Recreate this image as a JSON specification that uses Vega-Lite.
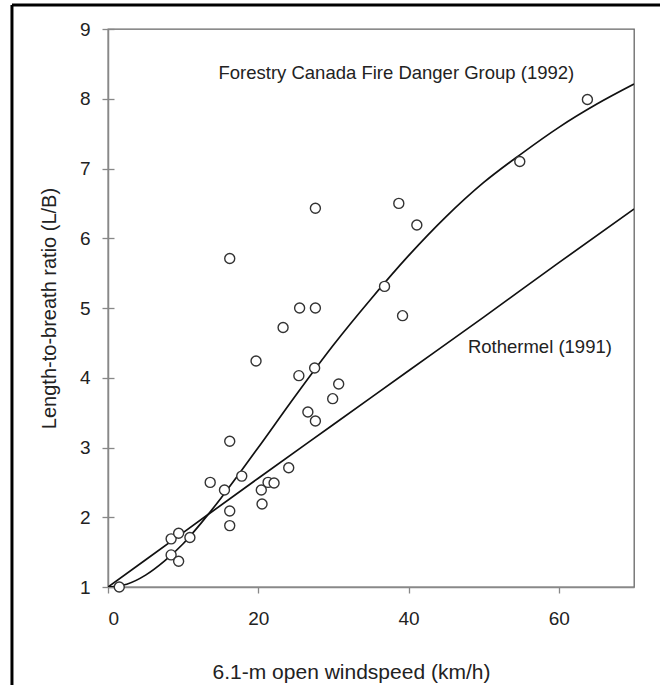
{
  "$schema": "https://vega.github.io/schema/vega-lite/v6.json",
  "width": 526,
  "height": 558,
  "autosize": "none",
  "padding": {"left": 108, "top": 29, "right": 26, "bottom": 98},
  "background": "white",
  "config": {
    "font": "Liberation Sans",
    "view": {"stroke": "#666", "strokeWidth": 1.3},
    "axis": {"grid": false, "domainColor": "#888", "tickColor": "#888", "domainWidth": 1.5, "tickWidth": 1.3, "labelColor": "#222", "titleColor": "#222", "titleFontWeight": "normal", "labelFont": "Liberation Sans", "titleFont": "Liberation Sans"}
  },
  "datasets": {
    "obs": [
      {"ws": 1.5, "lb": 1.0}, {"ws": 8.4, "lb": 1.69}, {"ws": 9.4, "lb": 1.77}, {"ws": 10.9, "lb": 1.71},
      {"ws": 8.4, "lb": 1.46}, {"ws": 9.4, "lb": 1.37}, {"ws": 13.6, "lb": 2.5}, {"ws": 15.5, "lb": 2.39},
      {"ws": 17.8, "lb": 2.59}, {"ws": 16.2, "lb": 3.09}, {"ws": 16.2, "lb": 2.09}, {"ws": 16.2, "lb": 1.88},
      {"ws": 20.4, "lb": 2.39}, {"ws": 20.5, "lb": 2.19}, {"ws": 21.3, "lb": 2.5}, {"ws": 22.1, "lb": 2.49},
      {"ws": 24.05, "lb": 2.71}, {"ws": 16.2, "lb": 5.71}, {"ws": 19.7, "lb": 4.24}, {"ws": 23.3, "lb": 4.72},
      {"ws": 25.5, "lb": 5.0}, {"ws": 27.6, "lb": 5.0}, {"ws": 25.4, "lb": 4.03}, {"ws": 27.5, "lb": 4.14},
      {"ws": 30.7, "lb": 3.91}, {"ws": 29.9, "lb": 3.7}, {"ws": 26.6, "lb": 3.51}, {"ws": 27.6, "lb": 3.38},
      {"ws": 36.8, "lb": 5.31}, {"ws": 39.2, "lb": 4.89}, {"ws": 38.7, "lb": 6.5}, {"ws": 41.1, "lb": 6.19},
      {"ws": 27.6, "lb": 6.43}, {"ws": 63.8, "lb": 7.99}, {"ws": 54.8, "lb": 7.1}
    ],
    "curves": [
      {"model": "FCFDG", "ws": 0, "lb": 1.0}, {"model": "FCFDG", "ws": 2.5, "lb": 1.04},
      {"model": "FCFDG", "ws": 5, "lb": 1.17}, {"model": "FCFDG", "ws": 7.5, "lb": 1.37},
      {"model": "FCFDG", "ws": 10, "lb": 1.62}, {"model": "FCFDG", "ws": 12.5, "lb": 1.93},
      {"model": "FCFDG", "ws": 15, "lb": 2.27}, {"model": "FCFDG", "ws": 17.5, "lb": 2.63},
      {"model": "FCFDG", "ws": 20, "lb": 3.0}, {"model": "FCFDG", "ws": 25, "lb": 3.75},
      {"model": "FCFDG", "ws": 30, "lb": 4.47}, {"model": "FCFDG", "ws": 35, "lb": 5.13},
      {"model": "FCFDG", "ws": 40, "lb": 5.75}, {"model": "FCFDG", "ws": 45, "lb": 6.31},
      {"model": "FCFDG", "ws": 50, "lb": 6.8}, {"model": "FCFDG", "ws": 55, "lb": 7.21},
      {"model": "FCFDG", "ws": 60, "lb": 7.59}, {"model": "FCFDG", "ws": 65, "lb": 7.92},
      {"model": "FCFDG", "ws": 70, "lb": 8.21},
      {"model": "Rothermel", "ws": 0, "lb": 1.0}, {"model": "Rothermel", "ws": 10, "lb": 1.78},
      {"model": "Rothermel", "ws": 20, "lb": 2.56}, {"model": "Rothermel", "ws": 30, "lb": 3.33},
      {"model": "Rothermel", "ws": 40, "lb": 4.1}, {"model": "Rothermel", "ws": 50, "lb": 4.87},
      {"model": "Rothermel", "ws": 60, "lb": 5.65}, {"model": "Rothermel", "ws": 70, "lb": 6.42}
    ],
    "labels": [
      {"ws": 14.7, "lb": 8.37, "text": "Forestry Canada Fire Danger Group (1992)"},
      {"ws": 47.9, "lb": 4.44, "text": "Rothermel (1991)"}
    ]
  },
  "layer": [
    {
      "data": {"name": "curves"},
      "mark": {"type": "line", "color": "#111", "strokeWidth": 1.7, "interpolate": "monotone", "clip": true},
      "encoding": {
        "x": {"field": "ws", "type": "quantitative", "scale": {"domain": [0, 70], "nice": false, "zero": false},
          "axis": {"title": "6.1-m open windspeed (km/h)", "values": [0, 20, 40, 60], "tickSize": 6, "labelFontSize": 19, "labelPadding": 16, "titleFontSize": 21, "titleX": 243, "titleY": 85, "titleBaseline": "middle"}},
        "y": {"field": "lb", "type": "quantitative", "scale": {"domain": [1, 9], "nice": false, "zero": false},
          "axis": {"orient": "left", "title": null, "labels": false, "domain": false, "tickSize": -6, "values": [1, 2, 3, 4, 5, 6, 7, 8, 9]}},
        "detail": {"field": "model", "type": "nominal"}
      }
    },
    {
      "data": {"name": "obs"},
      "mark": {"type": "circle", "size": 100, "fill": "white", "fillOpacity": 1, "stroke": "#333", "strokeWidth": 1.4, "opacity": 1},
      "encoding": {
        "x": {"field": "ws", "type": "quantitative"},
        "y": {"field": "lb", "type": "quantitative",
          "axis": {"orient": "left", "title": "Length-to-breath ratio (L/B)", "values": [1, 2, 3, 4, 5, 6, 7, 8, 9], "tickSize": 6, "labelFontSize": 19, "labelPadding": 12, "titleFontSize": 20, "titlePadding": 20}}
      }
    },
    {
      "data": {"name": "labels"},
      "mark": {"type": "text", "align": "left", "baseline": "middle", "fontSize": 18.5, "color": "#222", "font": "Liberation Sans"},
      "encoding": {
        "x": {"field": "ws", "type": "quantitative"},
        "y": {"field": "lb", "type": "quantitative", "axis": null},
        "text": {"field": "text"}
      }
    },
    {
      "data": {"values": [{}]},
      "mark": {"type": "rule", "color": "black", "strokeWidth": 3, "clip": false},
      "encoding": {
        "x": {"datum": -12.78, "type": "quantitative"},
        "x2": {"datum": 73.5},
        "y": {"datum": 9.344, "type": "quantitative", "axis": null}
      }
    },
    {
      "data": {"values": [{}]},
      "mark": {"type": "rule", "color": "black", "strokeWidth": 3, "clip": false},
      "encoding": {
        "x": {"datum": -12.78, "type": "quantitative"},
        "y": {"datum": 9.344, "type": "quantitative", "axis": null},
        "y2": {"datum": -0.5}
      }
    }
  ],
  "resolve": {"axis": {"y": "independent"}}
}
